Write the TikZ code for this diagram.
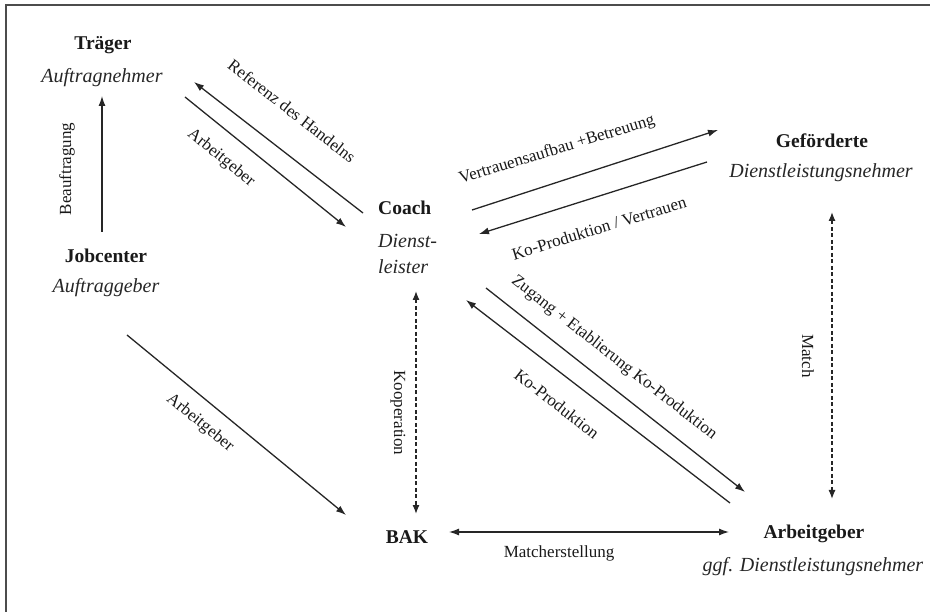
\documentclass[tikz,border=0pt]{standalone}
\usepackage{fontspec}
\setmainfont{Liberation Serif}
\usetikzlibrary{arrows.meta}

\tikzset{
  actor/.style={font=\fontsize{19.5}{22}\selectfont\bfseries, text=black!90, inner sep=1pt},
  role/.style={font=\fontsize{20}{23}\selectfont\itshape, text=black!85, inner sep=1pt},
  lbl/.style={font=\fontsize{17}{19}\selectfont, text=black!90, inner sep=1pt},
  flow/.style={line width=1.3pt, black!85, -{Latex[length=10pt,width=7pt]}},
  link/.style={line width=1.3pt, black!85, dash pattern=on 4pt off 2.5pt,
    {Latex[length=9pt,width=7pt]}-{Latex[length=9pt,width=7pt]}},
}

\begin{document}
\begin{tikzpicture}[x=1pt,y=-1pt]
			\useasboundingbox (0,0) rectangle (930,612);
			\draw[line width=2pt,black!70] (6,612) -- (6,5) -- (930,5);
			
			% actors
			\node[actor] (traeger) at (103,45) {Träger};
			\node[role] (auftragnehmer) at (102,78) {Auftragnehmer};
			\node[actor] (jobcenter) at (106,256) {Jobcenter};
			\node[role] (auftraggeber) at (106,288) {Auftraggeber};
			\node[actor,anchor=west] (coach) at (377,208) {Coach};
			\node[role,anchor=west] (dienst) at (377,241) {Dienst-};
			\node[role,anchor=west] (leister) at (377,267) {leister};
			\node[actor] (gefoerderte) at (822,141) {Geförderte};
			\node[role] (dln) at (821,173) {Dienstleistungsnehmer};
			\node[actor] (bak) at (407,537) {BAK};
			\node[actor] (arbeitgeber) at (814,534) {Arbeitgeber};
			\node[role] (ggf) at (813,567) {ggf. Dienstleistungsnehmer};
			
			% arrow ends
			\coordinate (beaufA) at (102,232);
			\coordinate (beaufB) at (102,96);
			\coordinate (refA) at (363,213);
			\coordinate (refB) at (194,82);
			\coordinate (agA) at (185,97);
			\coordinate (agB) at (346,227);
			\coordinate (vtA) at (472,210);
			\coordinate (vtB) at (718,130);
			\coordinate (kvA) at (707,162);
			\coordinate (kvB) at (479,234);
			\coordinate (zgA) at (486,288);
			\coordinate (zgB) at (745,492);
			\coordinate (kpA) at (730,503);
			\coordinate (kpB) at (466,300);
			\coordinate (jbA) at (127,335);
			\coordinate (jbB) at (346,515);
			\coordinate (koA) at (416,291);
			\coordinate (koB) at (416,514);
			\coordinate (maA) at (832,212);
			\coordinate (maB) at (832,499);
			\coordinate (meA) at (449,532);
			\coordinate (meB) at (729,532);
			
			\draw[flow] (beaufA) -- (beaufB);
			\draw[flow] (refA) -- (refB);
			\draw[flow] (agA) -- (agB);
			\draw[flow] (vtA) -- (vtB);
			\draw[flow] (kvA) -- (kvB);
			\draw[flow] (zgA) -- (zgB);
			\draw[flow] (kpA) -- (kpB);
			\draw[flow] (jbA) -- (jbB);
			\draw[link] (koA) -- (koB);
			\draw[link] (maA) -- (maB);
			\draw[line width=1.3pt,black!85,{Latex[length=10pt,width=7pt]}-{Latex[length=10pt,width=7pt]}] (meA) -- (meB);
			
			% labels
			\node[lbl,rotate=90] (l1) at (67,169) {Beauftragung};
			\node[lbl,rotate=-38] (l2) at (292,111) {Referenz des Handelns};
			\node[lbl,rotate=-39] (l3) at (221,158) {Arbeitgeber};
			\node[lbl,rotate=17] (l4) at (557,150) {Vertrauensaufbau +Betreuung};
			\node[lbl,rotate=17] (l5) at (599,228) {Ko-Produktion / Vertrauen};
			\node[lbl,rotate=-38] (l6) at (614,358) {Zugang + Etablierung Ko-Produktion};
			\node[lbl,rotate=-38] (l7) at (557,404) {Ko-Produktion};
			\node[lbl,rotate=-39] (l8) at (200,423) {Arbeitgeber};
			\node[lbl,rotate=-90] (l9) at (398,413) {Kooperation};
			\node[lbl,rotate=-90] (l10) at (808,356) {Match};
			\node[lbl] (l11) at (559,553) {Matcherstellung};
\end{tikzpicture}
\end{document}
